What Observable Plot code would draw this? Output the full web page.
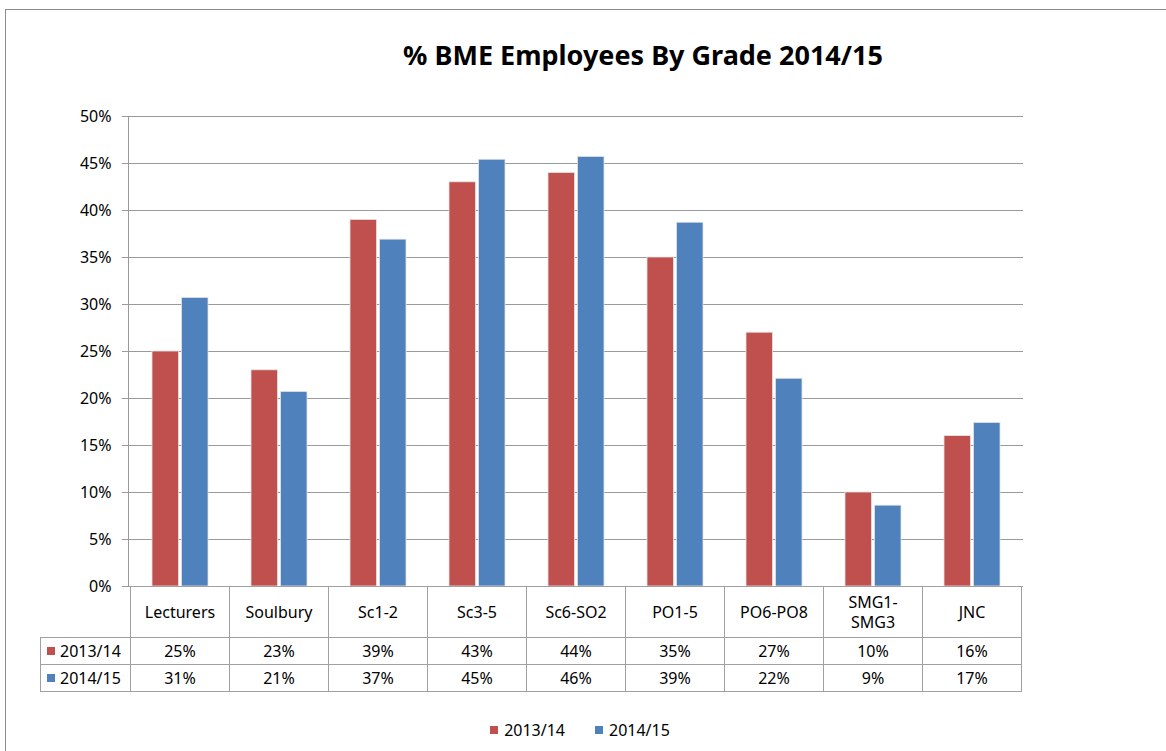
<!DOCTYPE html>
<html>
<head>
<meta charset="utf-8">
<script src="https://cdn.jsdelivr.net/npm/d3@7"></script>
<script src="https://cdn.jsdelivr.net/npm/@observablehq/plot@0.6"></script>
<style>
  html, body { margin: 0; padding: 0; background: #fff; }
  body { width: 1166px; height: 751px; overflow: hidden; position: relative; font-family: "Noto Sans", "Open Sans", sans-serif; }
  #frame { position: absolute; left: 5px; top: 9px; width: 1300px; height: 900px; border: 1px solid #8c8c8c; box-sizing: border-box; }
  #title { position: absolute; left: 0; width: 1286px; top: 36px; text-align: center; font-weight: bold; font-size: 27px; color: #000; }
  #chart { position: absolute; left: 0; top: 0; }
  #tbl { position: absolute; left: 0; top: 0; font-size: 16px; color: #000; }
  .cell { position: absolute; box-sizing: border-box; border: 1px solid #a0a0a0; display: flex; align-items: center; justify-content: center; text-align: center; white-space: pre-line; line-height: 1.25; }
  .cell.key { justify-content: flex-start; padding-left: 6px; white-space: nowrap; }
  .sw { display: inline-block; width: 8px; height: 8px; margin-right: 5px; }
  #legend { position: absolute; top: 717px; left: 0; width: 1160px; text-align: center; font-size: 16px; color: #000; }
  #legend span.item { margin: 0 15px; display: inline-flex; align-items: center; }
  #legend .sw { margin-right: 6px; }
</style>
</head>
<body>
<div id="frame"></div>
<div id="title"></div>
<div id="chart"></div>
<div id="tbl"></div>
<div id="legend"></div>
<script>
const titleText = "% BME Employees By Grade 2014/15";
const grades = ["Lecturers", "Soulbury", "Sc1-2", "Sc3-5", "Sc6-SO2", "PO1-5", "PO6-PO8", "SMG1-\nSMG3", "JNC"];
const years = ["2013/14", "2014/15"];
const values2013 = [0.25, 0.23, 0.39, 0.43, 0.44, 0.35, 0.27, 0.10, 0.16];
const values2014 = [0.307, 0.207, 0.369, 0.454, 0.457, 0.387, 0.221, 0.086, 0.174];
const yTicks = [0, 0.05, 0.10, 0.15, 0.20, 0.25, 0.30, 0.35, 0.40, 0.45, 0.50];
const colors = ["#C0504D", "#4F81BD"];

const fmt = d3.format(".0%");
const rows2013 = grades.map((g, i) => ({grade: g, year: years[0], value: values2013[i]}));
const rows2014 = grades.map((g, i) => ({grade: g, year: years[1], value: values2014[i]}));

const W = 1166, H = 751;
const mL = 128, mR = 143, mT = 116, mB = 165;

const plot = Plot.plot({
  width: W, height: H,
  marginLeft: mL, marginRight: mR, marginTop: mT, marginBottom: mB,
  style: {fontFamily: "Noto Sans, Open Sans, sans-serif", fontSize: "16px", color: "#000", background: "transparent"},
  x: {domain: grades, padding: 0, axis: null},
  y: {domain: [0, 0.5], axis: null},
  color: {domain: years, range: colors},
  marks: [
    Plot.gridY(yTicks, {stroke: "#9a9a9a", strokeOpacity: 1, strokeWidth: 1}),
    Plot.barY(rows2013, {x: "grade", y: "value", fill: "year", insetLeft: 22, insetRight: 50.5, stroke: "#e4e4e4", strokeWidth: 0.8}),
    Plot.barY(rows2014, {x: "grade", y: "value", fill: "year", insetLeft: 51.5, insetRight: 21, stroke: "#e4e4e4", strokeWidth: 0.8}),
    Plot.axisY({ticks: yTicks, tickFormat: fmt, tickSize: 6, tickPadding: 11, stroke: "#9a9a9a", fill: "#000", fontSize: 16, label: null}),
    Plot.frame({anchor: "left", stroke: "#9a9a9a"})
  ]
});
document.getElementById("chart").appendChild(plot);
document.getElementById("title").textContent = titleText;

// data table below the plot; its columns follow the x band scale
const xs = plot.scale("x");
const ys = plot.scale("y");
const step = xs.step;
const top0 = ys.apply(0);          // bottom of the plot frame
const rowH = [51, 27, 27];
const rowTop = [top0, top0 + rowH[0], top0 + rowH[0] + rowH[1]];
const keyLeft = 40;
const tbl = document.getElementById("tbl");
function cell(x, y, w, h, html, cls) {
  const d = document.createElement("div");
  d.className = "cell" + (cls ? " " + cls : "");
  d.style.left = x + "px"; d.style.top = y + "px";
  d.style.width = (w + 1) + "px"; d.style.height = (h + 1) + "px";
  d.innerHTML = html;
  tbl.appendChild(d);
}
grades.forEach(g => {
  const x = xs.apply(g);
  cell(x, rowTop[0], step, rowH[0], g.replace("\n", "<br>"));
});
[values2013, values2014].forEach((vals, k) => {
  cell(keyLeft, rowTop[k + 1], xs.apply(grades[0]) - keyLeft, rowH[k + 1],
       `<span class="sw" style="background:${colors[k]}"></span>${years[k]}`, "key");
  vals.forEach((v, i) => cell(xs.apply(grades[i]), rowTop[k + 1], step, rowH[k + 1], fmt(v)));
});

document.getElementById("legend").innerHTML = years.map((y, k) =>
  `<span class="item"><span class="sw" style="background:${colors[k]}"></span>${y}</span>`).join("");
</script>
</body>
</html>
